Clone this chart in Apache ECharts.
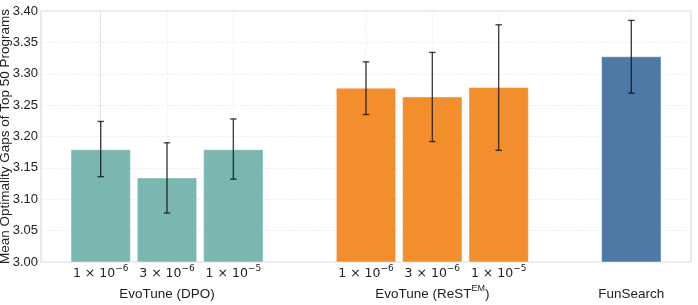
<!DOCTYPE html>
<html>
<head>
<meta charset="utf-8">
<script src="https://cdn.jsdelivr.net/npm/echarts@6/dist/echarts.min.js"></script>
<style>html,body{margin:0;padding:0;background:#fff;}#c{width:698px;height:305px;}</style>
</head>
<body>
<div id="c"></div>
<script>
// ---- data ----
var lrLabels = ['1 × 10|−6', '3 × 10|−6', '1 × 10|−5'];
var dpoPos = [0, 1, 2];
var dpoMean = [3.179, 3.134, 3.179];
var dpoLow = [3.136, 3.078, 3.132];
var dpoHigh = [3.224, 3.190, 3.228];
var restPos = [4, 5, 6];
var restMean = [3.277, 3.263, 3.278];
var restLow = [3.235, 3.192, 3.178];
var restHigh = [3.319, 3.334, 3.378];
var fsPos = [8];
var fsMean = [3.327];
var fsLow = [3.269];
var fsHigh = [3.385];
var groupNames = ['EvoTune (DPO)', 'EvoTune (ReST|EM|)', 'FunSearch'];
var groupPos = [1, 5, 8];
var yTicks = [3.00, 3.05, 3.10, 3.15, 3.20, 3.25, 3.30, 3.35, 3.40];

// ---- build ----
var yMin = yTicks[0], yMax = yTicks[yTicks.length - 1];
var tickPos = dpoPos.concat(restPos);
var tickText = {};
dpoPos.forEach(function (p, i) { tickText[p] = lrLabels[i]; });
restPos.forEach(function (p, i) { tickText[p] = lrLabels[i]; });
var groupText = {};
groupPos.forEach(function (p, i) { groupText[p] = groupNames[i]; });
var allPos = dpoPos.concat(restPos, fsPos);

function triples(xs, a, b) { return xs.map(function (x, i) { return [x, a[i], b[i]]; }); }
var errData = triples(dpoPos, dpoLow, dpoHigh).concat(triples(restPos, restLow, restHigh), triples(fsPos, fsLow, fsHigh));
function barData(xs, ys) { return xs.map(function (x, i) { return [x, ys[i]]; }); }

var chart = echarts.init(document.getElementById('c'), null, { renderer: 'canvas' });
var barFrac = 0.895;

function barRender(color) {
  return function (params, api) {
    var x = api.value(0);
    var top = api.coord([x, api.value(1)]);
    var base = api.coord([x, yMin]);
    var w = api.size([1, 0])[0] * barFrac;
    return { type: 'rect', shape: { x: top[0] - w / 2, y: top[1], width: w, height: base[1] - top[1] },
      style: { fill: color, stroke: 'rgba(255,255,255,0.45)', lineWidth: 1 } };
  };
}

chart.setOption({
  animation: false,
  backgroundColor: '#fff',
  grid: { left: 41, right: 7, top: 11, bottom: 43, outerBoundsMode: 'none', containLabel: false,
    show: true, borderColor: '#d4d4d4', borderWidth: 1, backgroundColor: 'transparent' },
  xAxis: [{
    type: 'value', min: -0.9, max: 8.9, position: 'bottom',
    axisLine: { show: false }, axisTick: { show: false }, splitLine: { show: false },
    axisLabel: {
      customValues: tickPos, margin: 2, color: '#222',
      formatter: function (v) { var t = (tickText[v] || '').split('|'); return '{n|' + t[0] + '}{s|' + t[1] + '}'; },
      rich: {
        n: { fontFamily: 'DejaVu Sans', fontSize: 12.5, color: '#222', lineHeight: 16, verticalAlign: 'bottom' },
        s: { fontFamily: 'DejaVu Sans', fontSize: 9, color: '#222', lineHeight: 16, verticalAlign: 'top' }
      }
    }
  }, {
    type: 'value', min: -0.9, max: 8.9, position: 'bottom', offset: 22,
    axisLine: { show: false }, axisTick: { show: false }, splitLine: { show: false },
    axisLabel: {
      customValues: groupPos, margin: 0, color: '#222',
      formatter: function (v) { var t = (groupText[v] || '').split('|'); return t.length > 1 ? '{n|' + t[0] + '}{s|' + t[1] + '}{n|' + t[2] + '}' : '{n|' + t[0] + '}'; },
      rich: {
        n: { fontFamily: 'Liberation Sans', fontSize: 13.5, color: '#222', lineHeight: 17, verticalAlign: 'bottom' },
        s: { fontFamily: 'Liberation Sans', fontSize: 9, color: '#222', lineHeight: 17, verticalAlign: 'top' }
      }
    }
  }],
  yAxis: {
    type: 'value', min: yMin, max: yMax, interval: 0.05,
    name: 'Mean Optimality Gaps of Top 50 Programs', nameLocation: 'middle', nameGap: 29, nameMoveOverlap: false,
    nameTextStyle: { fontFamily: 'Liberation Sans', fontSize: 13.5, color: '#222' },
    axisLine: { show: true, lineStyle: { color: '#d4d4d4' } }, axisTick: { show: false },
    axisLabel: { fontFamily: 'Liberation Sans', fontSize: 13, color: '#222', margin: 3, formatter: function (v) { return v.toFixed(2); } },
    splitLine: { show: true, lineStyle: { color: '#f0f0f0', width: 1, type: [4, 2] } }
  },
  series: [
    { type: 'custom', z: 1, silent: true, data: allPos.map(function (p) { return [p]; }),
      renderItem: function (params, api) {
        var x = api.value(0);
        var a = api.coord([x, yMax]), b = api.coord([x, yMin]);
        return { type: 'line', shape: { x1: a[0], y1: a[1], x2: b[0], y2: b[1] },
          style: { stroke: '#f0f0f0', lineWidth: 1, lineDash: [4, 2] } };
      } },
    { type: 'custom', z: 2, data: barData(dpoPos, dpoMean), renderItem: barRender('#79b7b0') },
    { type: 'custom', z: 2, data: barData(restPos, restMean), renderItem: barRender('#f28e2c') },
    { type: 'custom', z: 2, data: barData(fsPos, fsMean), renderItem: barRender('#4e78a6') },
    { type: 'custom', z: 5, data: errData,
      renderItem: function (params, api) {
        var x = api.value(0);
        var lo = api.coord([x, api.value(1)]);
        var hi = api.coord([x, api.value(2)]);
        var w = 3.2;
        var st = { stroke: 'rgba(20,20,20,0.8)', lineWidth: 1.4 };
        return { type: 'group', children: [
          { type: 'line', shape: { x1: lo[0], y1: lo[1], x2: hi[0], y2: hi[1] }, style: st },
          { type: 'line', shape: { x1: lo[0] - w, y1: lo[1], x2: lo[0] + w, y2: lo[1] }, style: st },
          { type: 'line', shape: { x1: hi[0] - w, y1: hi[1], x2: hi[0] + w, y2: hi[1] }, style: st }
        ] };
      } }
  ]
});
</script>
</body>
</html>
